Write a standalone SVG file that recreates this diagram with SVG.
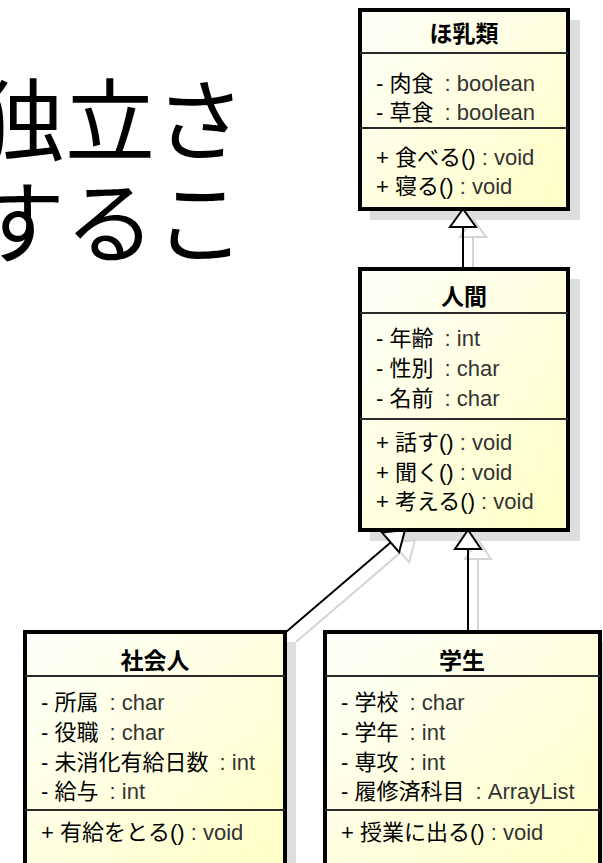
<svg xmlns="http://www.w3.org/2000/svg" width="603" height="863" viewBox="0 0 603 863">
<defs>
<linearGradient id="fillg" x1="0" y1="0" x2="1" y2="1">
<stop offset="0" stop-color="#fffffb"/>
<stop offset="1" stop-color="#ffffc6"/>
</linearGradient>
<style>
.bg{font-family:"Noto Sans CJK JP","Noto Sans CJK SC",sans-serif;font-size:90px;font-weight:400;fill:#000}
.shadow{fill:#dedede}
.box{fill:url(#fillg);stroke:#000;stroke-width:4}
.div{stroke:#2a2a2a;stroke-width:2}
.hd{font-family:"Liberation Sans","Noto Sans CJK JP",sans-serif;font-size:23px;font-weight:bold;fill:#000;text-anchor:middle}
.t{font-family:"Liberation Sans","Noto Sans CJK JP",sans-serif;font-size:22px;fill:#000}
.ty{fill:#333}
.ln{stroke:#000;stroke-width:2;fill:none}
.tri{stroke:#000;stroke-width:2;fill:#fff}
.sln{stroke:#d4d4d4;stroke-width:2;fill:none}
.stri{stroke:#d4d4d4;stroke-width:2;fill:#fff}
</style>
</defs>
<rect width="603" height="863" fill="#fff"/>
<g id="background-text">
<text class="bg" x="-25" y="154">独立さ</text>
<text class="bg" x="-25" y="256">するこ</text>
</g>
<g id="shadows">
<rect class="shadow" x="370" y="20" width="210" height="200"/>
<rect class="shadow" x="370" y="279" width="210" height="262"/>
<rect class="shadow" x="35" y="642" width="261" height="240"/>
<rect class="shadow" x="335" y="642" width="276" height="240"/>
</g>
<g id="connector-shadows">
<line class="sln" x1="473" y1="279" x2="473" y2="237"/>
<polygon class="stri" points="473,219 460,237 486,237"/>
<line class="sln" x1="478" y1="642" x2="478" y2="559"/>
<polygon class="stri" points="478,540 465,559 491,559"/>
<line class="sln" x1="296" y1="642" x2="400.6" y2="552.4"/>
<polygon class="stri" points="415,540 392.1,542.6 409.1,562.2"/>
</g>
<g id="connectors">
<line class="ln" x1="463" y1="269" x2="463" y2="227"/>
<polygon class="tri" points="463,209 450,227 476,227"/>
<line class="ln" x1="468" y1="632" x2="468" y2="549"/>
<polygon class="tri" points="468,530 455,549 481,549"/>
<line class="ln" x1="286" y1="632" x2="390.6" y2="542.4"/>
<polygon class="tri" points="405,530 382.1,532.6 399.1,552.2"/>
</g>
<g id="node-mammal">
<rect class="box" x="360" y="10" width="208" height="199"/>
<line class="div" x1="360" y1="53" x2="568" y2="53"/>
<line class="div" x1="360" y1="128" x2="568" y2="128"/>
<text class="hd" x="464" y="42">ほ乳類</text>
<text class="t" x="376" y="91">- 肉食<tspan class="ty" dx="5"> : boolean</tspan></text>
<text class="t" x="376" y="120">- 草食<tspan class="ty" dx="5"> : boolean</tspan></text>
<text class="t" x="376" y="165">+ 食べる()<tspan class="ty"> : void</tspan></text>
<text class="t" x="376" y="194">+ 寝る()<tspan class="ty"> : void</tspan></text>
</g>
<g id="node-human">
<rect class="box" x="360" y="269" width="208" height="261"/>
<line class="div" x1="360" y1="313" x2="568" y2="313"/>
<line class="div" x1="360" y1="419" x2="568" y2="419"/>
<text class="hd" x="464" y="305">人間</text>
<text class="t" x="376" y="346">- 年齢<tspan class="ty" dx="5"> : int</tspan></text>
<text class="t" x="376" y="376">- 性別<tspan class="ty" dx="5"> : char</tspan></text>
<text class="t" x="376" y="406">- 名前<tspan class="ty" dx="5"> : char</tspan></text>
<text class="t" x="376" y="450">+ 話す()<tspan class="ty"> : void</tspan></text>
<text class="t" x="376" y="480">+ 聞く()<tspan class="ty"> : void</tspan></text>
<text class="t" x="376" y="509">+ 考える()<tspan class="ty"> : void</tspan></text>
</g>
<g id="node-worker">
<rect class="box" x="25" y="632" width="260" height="240"/>
<line class="div" x1="25" y1="676" x2="285" y2="676"/>
<line class="div" x1="25" y1="810" x2="285" y2="810"/>
<text class="hd" x="155" y="669">社会人</text>
<text class="t" x="41" y="710">- 所属<tspan class="ty" dx="5"> : char</tspan></text>
<text class="t" x="41" y="740">- 役職<tspan class="ty" dx="5"> : char</tspan></text>
<text class="t" x="41" y="770">- 未消化有給日数<tspan class="ty" dx="5"> : int</tspan></text>
<text class="t" x="41" y="799">- 給与<tspan class="ty" dx="5"> : int</tspan></text>
<text class="t" x="41" y="840">+ 有給をとる()<tspan class="ty"> : void</tspan></text>
</g>
<g id="node-student">
<rect class="box" x="325" y="632" width="275" height="240"/>
<line class="div" x1="325" y1="676" x2="600" y2="676"/>
<line class="div" x1="325" y1="810" x2="600" y2="810"/>
<text class="hd" x="462" y="669">学生</text>
<text class="t" x="341" y="710">- 学校<tspan class="ty" dx="5"> : char</tspan></text>
<text class="t" x="341" y="740">- 学年<tspan class="ty" dx="5"> : int</tspan></text>
<text class="t" x="341" y="770">- 専攻<tspan class="ty" dx="5"> : int</tspan></text>
<text class="t" x="341" y="799">- 履修済科目<tspan class="ty" dx="5"> : ArrayList</tspan></text>
<text class="t" x="341" y="840">+ 授業に出る()<tspan class="ty"> : void</tspan></text>
</g>
</svg>
